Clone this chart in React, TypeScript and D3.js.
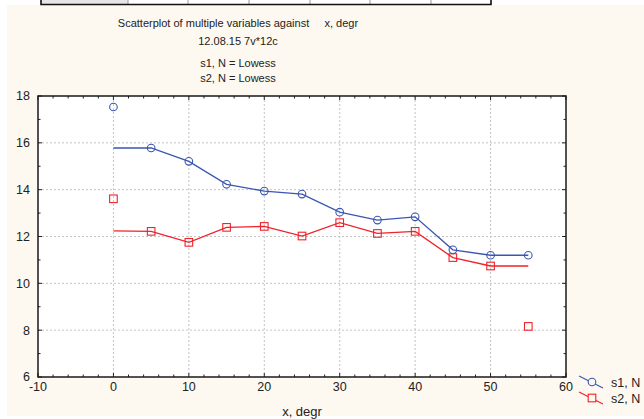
import React, { useEffect, useRef } from 'react';
import * as d3 from 'd3';

// x, degr
const xValues = [0, 5, 10, 15, 20, 25, 30, 35, 40, 45, 50, 55];
// observed points
const s1Values = [17.53, 15.78, 15.21, 14.23, 13.94, 13.81, 13.04, 12.7, 12.84, 11.43, 11.2, 11.2];
const s2Values = [13.61, 12.22, 11.75, 12.39, 12.43, 12.02, 12.59, 12.13, 12.22, 11.1, 10.74, 8.16];
// lowess fit
const s1Lowess = [15.78, 15.78, 15.21, 14.23, 13.94, 13.81, 13.04, 12.7, 12.84, 11.43, 11.2, 11.2];
const s2Lowess = [12.24, 12.22, 11.75, 12.39, 12.43, 12.02, 12.59, 12.13, 12.22, 11.1, 10.74, 10.74];

const xTicks = [-10, 0, 10, 20, 30, 40, 50, 60];
const yTicks = [6, 8, 10, 12, 14, 16, 18];
const legendLabels = ['s1, N', 's2, N'];
const titleLines = ['12.08.15 7v*12c', 's1, N = Lowess', 's2, N = Lowess'];
const tableDividers = [128, 188, 249, 310, 370, 431];

const BLUE = '#3a56b0';
const RED = '#f0222a';
const FONT = 'Arial, "Liberation Sans", sans-serif';

const App = () => {
  const svgRef = useRef<SVGSVGElement>(null);

  useEffect(() => {
    const width = 644;
    const height = 419;
    const plot = { left: 38, top: 96, right: 566, bottom: 377 };

    const svg = d3.select(svgRef.current);
    svg.selectAll('*').remove();

    svg.append('rect').attr('width', width).attr('height', height).attr('fill', '#ffffff');
    svg.append('rect')
      .attr('x', 7).attr('y', 5).attr('width', width - 7).attr('height', 411)
      .attr('fill', '#fdf9f1');

    // table strip at the top
    const table = svg.append('g');
    table.append('rect').attr('x', 41).attr('y', -2).attr('width', 450).attr('height', 6)
      .attr('fill', '#ffffff');
    table.append('rect').attr('x', 41).attr('y', -2).attr('width', 87).attr('height', 6)
      .attr('fill', '#e6e6e6');
    tableDividers.forEach(x => {
      table.append('line').attr('x1', x).attr('x2', x).attr('y1', 0).attr('y2', 4)
        .attr('stroke', '#9a9a9a').attr('stroke-width', 1);
    });
    table.append('path').attr('d', 'M41,0 V4.5 H491 V0')
      .attr('fill', 'none').attr('stroke', '#111').attr('stroke-width', 1.6);

    // titles
    const titles = svg.append('g').attr('font-family', FONT).attr('font-size', 11)
      .attr('fill', '#222').attr('text-anchor', 'middle');
    titles.append('text').attr('x', 238).attr('y', 27).style('white-space', 'pre')
      .text('Scatterplot of multiple variables against     x, degr');
    titleLines.forEach((t, i) => {
      titles.append('text').attr('x', 238).attr('y', [45, 67, 82][i]).text(t);
    });

    const xScale = d3.scaleLinear().domain([-10, 60]).range([plot.left, plot.right]);
    const yScale = d3.scaleLinear().domain([6, 18]).range([plot.bottom, plot.top]);

    svg.append('rect')
      .attr('x', plot.left).attr('y', plot.top)
      .attr('width', plot.right - plot.left).attr('height', plot.bottom - plot.top)
      .attr('fill', '#ffffff');

    // grid
    const grid = svg.append('g').attr('stroke', '#c4c4c4').attr('stroke-dasharray', '2,2')
      .attr('stroke-width', 1);
    xTicks.slice(1, -1).forEach(t => {
      grid.append('line').attr('x1', xScale(t)).attr('x2', xScale(t))
        .attr('y1', plot.top).attr('y2', plot.bottom);
    });
    yTicks.slice(1, -1).forEach(t => {
      grid.append('line').attr('y1', yScale(t)).attr('y2', yScale(t))
        .attr('x1', plot.left).attr('x2', plot.right);
    });

    // ticks (inward, on all four sides)
    const ticks = svg.append('g').attr('stroke', '#222').attr('stroke-width', 1);
    d3.range(-10, 61, 2).forEach(t => {
      const len = t % 10 === 0 ? 4 : 2.5;
      ticks.append('line').attr('x1', xScale(t)).attr('x2', xScale(t))
        .attr('y1', plot.bottom).attr('y2', plot.bottom - len);
      ticks.append('line').attr('x1', xScale(t)).attr('x2', xScale(t))
        .attr('y1', plot.top).attr('y2', plot.top + len);
    });
    d3.range(6, 18.1, 1).forEach(t => {
      const len = t % 2 === 0 ? 4 : 2.5;
      ticks.append('line').attr('y1', yScale(t)).attr('y2', yScale(t))
        .attr('x1', plot.left).attr('x2', plot.left + len);
      ticks.append('line').attr('y1', yScale(t)).attr('y2', yScale(t))
        .attr('x1', plot.right).attr('x2', plot.right - len);
    });

    svg.append('rect')
      .attr('x', plot.left).attr('y', plot.top)
      .attr('width', plot.right - plot.left).attr('height', plot.bottom - plot.top)
      .attr('fill', 'none').attr('stroke', '#1a1a1a').attr('stroke-width', 1.5);

    // tick labels
    const labels = svg.append('g').attr('font-family', FONT).attr('font-size', 12.5).attr('fill', '#222');
    xTicks.forEach(t => {
      labels.append('text').attr('x', xScale(t)).attr('y', 391)
        .attr('text-anchor', 'middle').text(t);
    });
    yTicks.forEach(t => {
      labels.append('text').attr('x', 30).attr('y', yScale(t)).attr('dy', '0.35em')
        .attr('text-anchor', 'end').text(t);
    });
    svg.append('text').attr('x', 302).attr('y', 416).attr('text-anchor', 'middle')
      .attr('font-family', FONT).attr('font-size', 13).attr('fill', '#222').text('x, degr');

    // lowess lines
    const line = d3.line<number>().x((d, i) => xScale(xValues[i])).y(d => yScale(d));
    svg.append('path').datum(s1Lowess).attr('d', line)
      .attr('fill', 'none').attr('stroke', BLUE).attr('stroke-width', 1.3);
    svg.append('path').datum(s2Lowess).attr('d', line)
      .attr('fill', 'none').attr('stroke', RED).attr('stroke-width', 1.3);

    // points
    svg.append('g').selectAll('circle').data(s1Values).enter().append('circle')
      .attr('cx', (d, i) => xScale(xValues[i])).attr('cy', d => yScale(d)).attr('r', 3.8)
      .attr('fill', 'none').attr('stroke', BLUE).attr('stroke-width', 1.1);
    svg.append('g').selectAll('rect').data(s2Values).enter().append('rect')
      .attr('x', (d, i) => xScale(xValues[i]) - 3.8).attr('y', d => yScale(d) - 3.8)
      .attr('width', 7.6).attr('height', 7.6)
      .attr('fill', 'none').attr('stroke', RED).attr('stroke-width', 1.1);

    // legend
    const legend = svg.append('g');
    [BLUE, RED].forEach((c, i) => {
      const y0 = 376 + i * 16;
      legend.append('line').attr('x1', 579).attr('y1', y0).attr('x2', 603).attr('y2', y0 + 12)
        .attr('stroke', c).attr('stroke-width', 1.2);
      if (i === 0) {
        legend.append('circle').attr('cx', 592).attr('cy', y0 + 6).attr('r', 3.8)
          .attr('fill', '#fdf9f1').attr('stroke', c).attr('stroke-width', 1.1);
      } else {
        legend.append('rect').attr('x', 588.2).attr('y', y0 + 2.2).attr('width', 7.6).attr('height', 7.6)
          .attr('fill', '#fdf9f1').attr('stroke', c).attr('stroke-width', 1.1);
      }
      legend.append('text').attr('x', 611).attr('y', y0 + 10.5)
        .attr('font-family', FONT).attr('font-size', 12.5).attr('fill', '#222')
        .text(legendLabels[i]);
    });
  }, []);

  return (
    <svg ref={svgRef} width={644} height={419}
      style={{ position: 'absolute', left: 0, top: 0, display: 'block' }} />
  );
};

export default App;
